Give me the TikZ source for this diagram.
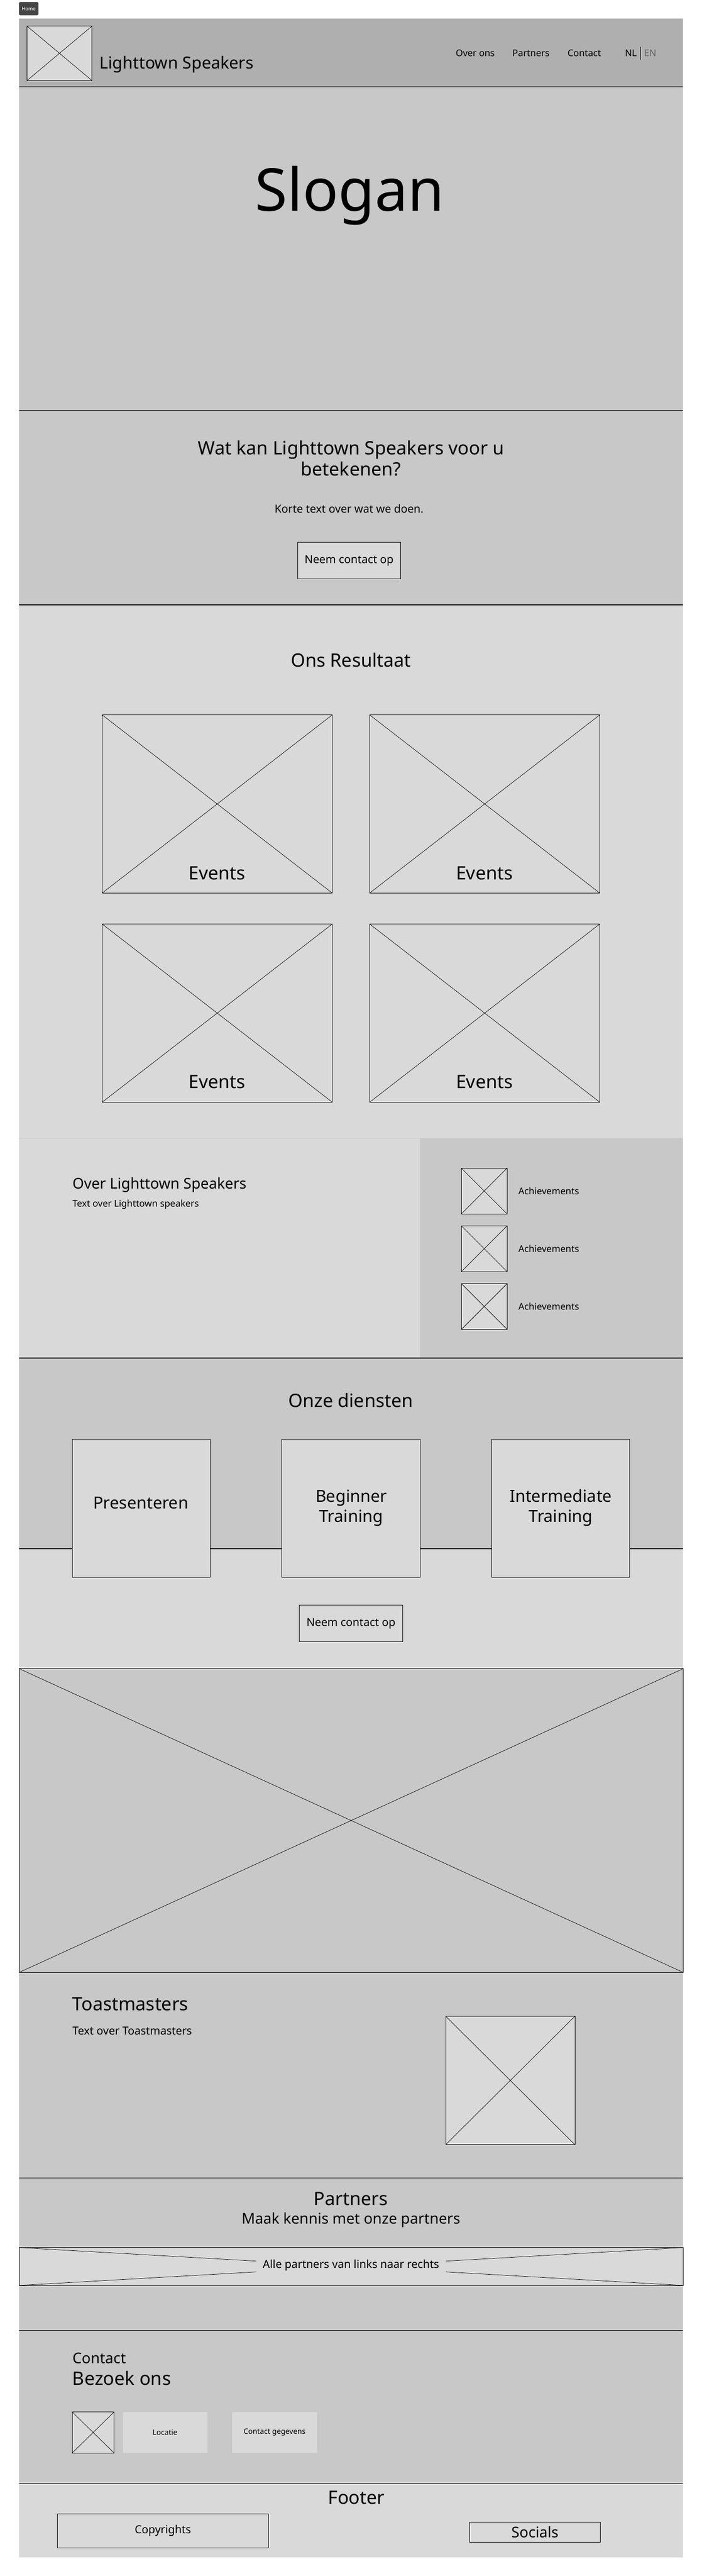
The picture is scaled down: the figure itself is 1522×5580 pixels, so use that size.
\documentclass[tikz,border=0pt]{standalone}
\usepackage{fontspec}
\setmainfont{Noto Sans}
\usetikzlibrary{positioning}
\definecolor{hdr}{HTML}{AFAFAF}
\definecolor{mid}{HTML}{C8C8C8}
\definecolor{lite}{HTML}{D9D9D9}
\definecolor{tagbg}{HTML}{444444}
\newcommand{\fsz}[2]{\fontsize{#1}{#2}\selectfont}

\begin{document}
\begin{tikzpicture}[x=1pt,y=-1pt,
	ph/.style={draw,line width=1pt,fill=lite,inner sep=0pt,
		path picture={\draw[line width=0.8pt] (path picture bounding box.north west) -- (path picture bounding box.south east)
			(path picture bounding box.south west) -- (path picture bounding box.north east);}},
	card/.style={draw,line width=1pt,fill=lite,inner sep=0pt},
	btn/.style={card,minimum width=224,minimum height=79,font=\fsz{24}{29}},
	txt/.style={inner sep=0pt},
	sep/.style={line width=2pt},
	thin/.style={line width=1pt}]
	\useasboundingbox (0,0) rectangle (1522,5580);

	\fill[hdr] (41,40) rectangle (1481,188);
	\fill[mid] (41,188) rectangle (1481,1310);
	\fill[lite] (41,1310) rectangle (1481,2466);
	\fill[lite] (41,2466) rectangle (911,2942);
	\fill[mid] (911,2466) rectangle (1481,2942);
	\fill[mid] (41,2942) rectangle (1481,3355);
	\fill[lite] (41,3355) rectangle (1481,3614);
	\fill[mid] (41,3614) rectangle (1481,5379);
	\fill[lite] (41,5379) rectangle (1481,5540);

	\node[fill=tagbg,rounded corners=3pt,minimum width=42,minimum height=29,inner sep=0pt,
		text=white,font=\fsz{10.5}{12},anchor=north west] (home) at (41,4) {Home};

	\node[ph,minimum width=141,minimum height=118,anchor=north west] (logo) at (58,56) {};
	\node[txt,anchor=base west,font=\fsz{36}{43}] (brand) at (216,149.5) {Lighttown Speakers};
	\node[txt,anchor=base,font=\fsz{20}{24}] (nav1) at (1030.5,122.7) {Over ons};
	\node[txt,anchor=base,font=\fsz{20}{24}] (nav2) at (1151.3,122.7) {Partners};
	\node[txt,anchor=base,font=\fsz{20}{24}] (nav3) at (1267,122.7) {Contact};
	\node[txt,anchor=base,font=\fsz{20}{24}\bfseries] (nl) at (1368,122.7) {NL};
	\node[txt,anchor=base,font=\fsz{20}{24},text=black!60] (en) at (1410,122.7) {EN};
	\draw[thin] (1388.5,101) -- (1388.5,130);
	\draw[sep] (41,188) -- (1481,188);

	\node[txt,anchor=base,font=\fsz{128}{150}] (slogan) at (758.5,457.5) {Slogan};
	\draw[sep] (41,889) -- (1481,889);

	\node[txt,align=center,font=\fsz{40}{46}] (wat) at (761,993) {Wat kan Lighttown Speakers voor u\\betekenen?};
	\node[txt,anchor=base,font=\fsz{24}{29}] (korte) at (757,1111) {Korte text over wat we doen.};
	\node[btn] (btn1) at (757,1214.5) {Neem contact op};
	\draw[sep] (41,1310) -- (1481,1310);

	\node[txt,anchor=base,font=\fsz{40}{48}] (resultaat) at (761,1445) {Ons Resultaat};
	\node[ph,minimum width=499,minimum height=386,anchor=north west] (ev1) at (221,1548) {};
	\node[ph,minimum width=499,minimum height=386,anchor=north west] (ev2) at (801,1548) {};
	\node[ph,minimum width=499,minimum height=386,anchor=north west] (ev3) at (221,2001) {};
	\node[ph,minimum width=499,minimum height=386,anchor=north west] (ev4) at (801,2001) {};
	\node[txt,anchor=base,font=\fsz{40}{48}] (evlbl1) at (470.5,1905) {Events};
	\node[txt,anchor=base,font=\fsz{40}{48}] (evlbl2) at (1050.5,1905) {Events};
	\node[txt,anchor=base,font=\fsz{40}{48}] (evlbl3) at (470.5,2358) {Events};
	\node[txt,anchor=base,font=\fsz{40}{48}] (evlbl4) at (1050.5,2358) {Events};

	\draw[mid,thin] (41,2466) -- (1481,2466);
	\node[txt,anchor=base west,font=\fsz{32}{38}] (over) at (157,2575) {Over Lighttown Speakers};
	\node[txt,anchor=base west,font=\fsz{20}{24}] (overtxt) at (157,2614.5) {Text over Lighttown speakers};
	\node[ph,minimum width=99,minimum height=99,anchor=north west] (ach1) at (1000,2530) {};
	\node[ph,minimum width=99,minimum height=99,anchor=north west] (ach2) at (1000,2655) {};
	\node[ph,minimum width=99,minimum height=99,anchor=north west] (ach3) at (1000,2780) {};
	\node[txt,anchor=west,font=\fsz{20}{24},right=24pt of ach1] (achtxt1) {Achievements};
	\node[txt,anchor=west,font=\fsz{20}{24},right=24pt of ach2] (achtxt2) {Achievements};
	\node[txt,anchor=west,font=\fsz{20}{24},right=24pt of ach3] (achtxt3) {Achievements};
	\draw[sep] (41,2942) -- (1481,2942);

	\node[txt,anchor=base,font=\fsz{40}{48}] (diensten) at (760.5,3048) {Onze diensten};
	\draw[sep] (41,3355) -- (1481,3355);
	\node[card,minimum width=299,minimum height=299,anchor=north west] (svc1) at (156,3116.5) {};
	\node[card,minimum width=300,minimum height=299,anchor=north west] (svc2) at (611,3116.5) {};
	\node[card,minimum width=299,minimum height=299,anchor=north west] (svc3) at (1066,3116.5) {};
	\node[txt,anchor=base,font=\fsz{36}{43.6}] (svctxt1) at (305.5,3268.5) {Presenteren};
	\node[txt,align=center,font=\fsz{36}{43.6}] (svctxt2) at (svc2.center) {Beginner\\Training};
	\node[txt,align=center,font=\fsz{36}{43.6}] (svctxt3) at (svc3.center) {Intermediate\\Training};
	\node[btn] (btn2) at (761,3516.5) {Neem contact op};

	\node[ph,fill=mid,minimum width=1440,minimum height=658,anchor=north west] (hero) at (41,3614) {};

	\node[txt,anchor=base west,font=\fsz{40}{48}] (toast) at (157,4355) {Toastmasters};
	\node[txt,anchor=base west,font=\fsz{24}{29}] (toasttxt) at (157,4408) {Text over Toastmasters};
	\node[ph,minimum width=280,minimum height=278,anchor=north west] (toastimg) at (966,4367) {};
	\draw[thin] (41,4718) -- (1481,4718);

	\node[txt,anchor=base,font=\fsz{40}{48}] (partners) at (761,4777) {Partners};
	\node[txt,anchor=base,font=\fsz{32}{38}] (maak) at (761,4817) {Maak kennis met onze partners};
	\node[ph,minimum width=1440,minimum height=82,anchor=north west] (strip) at (41,4868) {};
	\node[fill=lite,inner xsep=14pt,inner ysep=6pt,font=\fsz{24}{29}] (alle) at (761,4907) {Alle partners van links naar rechts};
	\draw[thin] (41,5048) -- (1481,5048);

	\node[txt,anchor=base west,font=\fsz{32}{38}] (contact) at (157,5120) {Contact};
	\node[txt,anchor=base west,font=\fsz{40}{48}] (bezoek) at (157,5166) {Bezoek ons};
	\node[ph,minimum width=91,minimum height=89,anchor=north west] (cimg) at (156,5224) {};
	\node[fill=lite,inner sep=0pt,minimum width=183.5,minimum height=89,font=\fsz{16}{19},right=18pt of cimg] (loc) {Locatie};
	\node[fill=lite,inner sep=0pt,minimum width=183.5,minimum height=89,font=\fsz{16}{19},right=53.5pt of loc] (cgeg) {Contact gegevens};
	\draw[thin] (41,5379) -- (1481,5379);

	\node[txt,anchor=base,font=\fsz{40}{48}] (footer) at (773,5424.5) {Footer};
	\node[card,minimum width=457.5,minimum height=73,font=\fsz{24}{29},anchor=north west] (copy) at (124,5445) {Copyrights};
	\node[card,minimum width=283,minimum height=43,font=\fsz{32}{38},anchor=north west] (soc) at (1018,5463) {Socials};
\end{tikzpicture}
\end{document}
